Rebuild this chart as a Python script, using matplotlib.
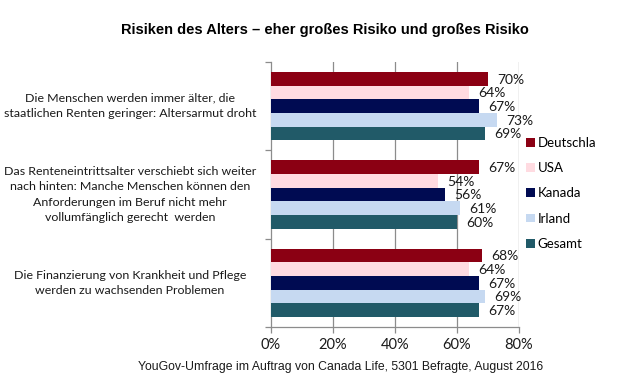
import matplotlib
matplotlib.use('Agg')
import matplotlib.pyplot as plt
from matplotlib.patches import Patch
from matplotlib.ticker import FixedLocator, FuncFormatter
import numpy as np

plt.rcParams['font.family'] = ['Lato', 'DejaVu Sans']

categories = [
    'Die Menschen werden immer älter, die\nstaatlichen Renten geringer: Altersarmut droht',
    'Das Renteneintrittsalter verschiebt sich weiter\nnach hinten: Manche Menschen können den\nAnforderungen im Beruf nicht mehr\nvollumfänglich gerecht  werden',
    'Die Finanzierung von Krankheit und Pflege\nwerden zu wachsenden Problemen',
]
series = ['Deutschla', 'USA', 'Kanada', 'Irland', 'Gesamt']
deutschland = [70, 67, 68]
usa = [64, 54, 64]
kanada = [67, 56, 67]
irland = [73, 61, 69]
gesamt = [69, 60, 67]
values = [deutschland, usa, kanada, irland, gesamt]
colors = ['#8b0013', '#ffdbe1', '#000b52', '#c6d9f1', '#215a68']
xticks = [0, 20, 40, 60, 80]

W, H = 621, 383
fig = plt.figure(figsize=(W / 100, H / 100), dpi=100)
ax = fig.add_axes([271 / W, 1 - 327 / H, (519 - 271) / W, (327 - 62) / H])

grid = '#8c8c8c'
txt = '#1a1a1a'
bh = 0.155
y = np.arange(len(categories))
for i, (vals, col) in enumerate(zip(values, colors)):
    pos = y - 2 * bh + i * bh
    ax.barh(pos, vals, height=bh, color=col, zorder=3)
    for p, v in zip(pos, vals):
        ax.text(v + 3.0, p + 0.01, f'{v}%', va='center', ha='left',
                fontsize=10, color=txt, zorder=4)

ax.set_xlim(0, 80)
ax.set_ylim(2.5, -0.5)
ax.xaxis.set_major_locator(FixedLocator(xticks))
ax.xaxis.set_major_formatter(FuncFormatter(lambda v, p: f'{v:.0f}%'))
ax.yaxis.set_major_locator(FixedLocator([-0.5, 0.5, 1.5, 2.5]))
ax.set_yticklabels([])
for v in xticks[1:]:
    ax.axvline(v, color=grid, linewidth=0.9, zorder=1)
for s in ['top', 'right']:
    ax.spines[s].set_visible(False)
for s in ['left', 'bottom']:
    ax.spines[s].set_color(grid)
    ax.spines[s].set_linewidth(0.9)
ax.tick_params(axis='both', colors=grid, length=4, width=0.9, direction='out')
ax.tick_params(axis='x', labelcolor=txt, labelsize=10.5, pad=4)

for yc, lab in zip(y, categories):
    yf = 1 - (62 + (yc + 0.5) * (327 - 62) / 3) / H
    fig.text(130 / W, yf, lab, ha='center', va='center', fontsize=8.9,
             color=txt, linespacing=1.5)

handles = [Patch(facecolor=c, edgecolor='none') for c in colors]
fig.legend(handles, series, loc='upper left', bbox_to_anchor=(526 / W, 1 - 137 / H),
           frameon=False, fontsize=9.5, handlelength=0.65, handleheight=0.65,
           handletextpad=0.25, labelspacing=1.0, borderaxespad=0, borderpad=0)

fig.text(325 / W, 1 - 30 / H, 'Risiken des Alters – eher großes Risiko und großes Risiko',
         ha='center', va='center', fontsize=10.5, fontweight='bold', color='black',
         family='Liberation Sans')
fig.text(341 / W, 1 - 367 / H,
         'YouGov-Umfrage im Auftrag von Canada Life, 5301 Befragte, August 2016',
         ha='center', va='center', fontsize=8.8, color=txt, family='Liberation Sans')

fig.savefig('out.png', dpi=100, facecolor='white')
